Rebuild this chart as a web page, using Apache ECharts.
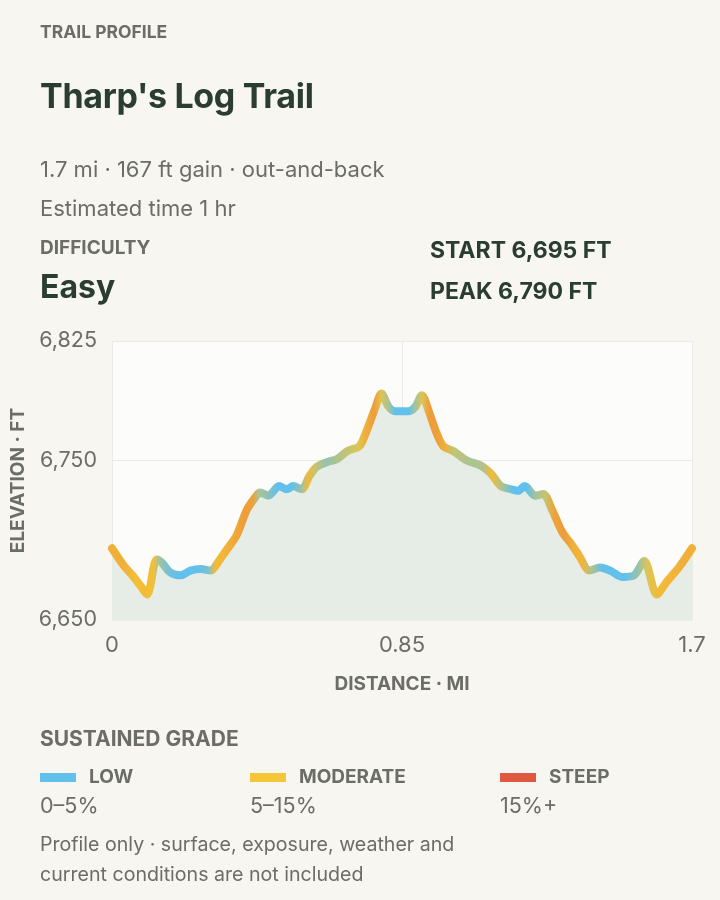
<!DOCTYPE html>
<html>
<head>
<meta charset="utf-8">
<script src="https://cdn.jsdelivr.net/npm/echarts@6/dist/echarts.min.js"></script>
<style>
  html, body { margin: 0; padding: 0; background: #f7f6f1; }
  body { width: 720px; height: 900px; position: relative; overflow: hidden; font-family: Inter, "Noto Sans", sans-serif; }
  #chart { position: absolute; left: 0; top: 0; width: 720px; height: 900px; }
  .t { position: absolute; white-space: nowrap; line-height: 1; }
  .cap { font-weight: 700; color: #6b6e66; font-size: 17.5px; }
  .dark { color: #2b3c32; font-weight: 700; }
  .reg { color: #6b6e66; font-size: 22px; }
  .sw { position: absolute; width: 36px; height: 9px; }
</style>
</head>
<body>
<div id="chart"></div>
<div class="t cap" style="left:40px;top:23px;">TRAIL PROFILE</div>
<div class="t dark" style="left:40px;top:79px;font-size:34px;letter-spacing:-0.3px;">Tharp's Log Trail</div>
<div class="t reg" style="left:40px;top:158px;">1.7 mi · 167 ft gain · out-and-back</div>
<div class="t reg" style="left:40px;top:197px;">Estimated time 1 hr</div>
<div class="t cap" style="left:40px;top:238px;font-size:19px;">DIFFICULTY</div>
<div class="t dark" style="left:40px;top:271px;font-size:32px;">Easy</div>
<div class="t dark" style="left:430px;top:239px;font-size:23px;">START 6,695 FT</div>
<div class="t dark" style="left:430px;top:280px;font-size:23px;">PEAK 6,790 FT</div>

<div class="t cap" style="left:40px;top:728px;font-size:21px;">SUSTAINED GRADE</div>
<div class="sw" style="left:40px;top:773px;background:#62c0ec;"></div>
<div class="t cap" style="left:89px;top:767px;font-size:19px;">LOW</div>
<div class="t reg" style="left:40px;top:795px;font-size:21.5px;">0–5%</div>
<div class="sw" style="left:250px;top:773px;background:#f5c637;"></div>
<div class="t cap" style="left:299px;top:767px;font-size:19px;">MODERATE</div>
<div class="t reg" style="left:250px;top:795px;font-size:21.5px;">5–15%</div>
<div class="sw" style="left:500px;top:773px;background:#df5840;"></div>
<div class="t cap" style="left:549px;top:767px;font-size:19px;">STEEP</div>
<div class="t reg" style="left:500px;top:795px;font-size:21.5px;">15%+</div>
<div class="t reg" style="left:40px;top:835px;font-size:19.6px;">Profile only · surface, exposure, weather and</div>
<div class="t reg" style="left:40px;top:865px;font-size:19.6px;">current conditions are not included</div>

<script>
// ---- data ----
const distanceMi = [0.000,0.035,0.060,0.085,0.103,0.131,0.146,0.170,0.200,0.230,0.260,0.290,0.310,0.336,0.365,0.395,0.420,0.434,0.458,0.490,0.512,0.531,0.556,0.578,0.600,0.630,0.660,0.690,0.725,0.745,0.770,0.790,0.810,0.830,0.850,0.870,0.890,0.908,0.930,0.950,0.971,1.000,1.040,1.080,1.110,1.140,1.170,1.190,1.210,1.240,1.264,1.290,1.320,1.345,1.370,1.400,1.430,1.460,1.495,1.530,1.560,1.597,1.626,1.665,1.700];
const elevationFt = [6695,6684,6678,6671,6666,6688,6686,6680,6678,6681,6682,6681,6686,6694,6703,6719,6727,6730,6728,6734,6732,6734,6732,6740,6746,6749,6751,6756,6759,6768,6782,6792,6784,6781,6781,6781,6784,6791,6780,6768,6759,6756,6750,6747,6742,6734,6732,6731,6734,6728,6729,6719,6705,6698,6690,6681,6683,6681,6677,6678,6687,6666,6674,6684,6695];
const sustainedGradePct = [7.5,7.5,7,6,6.5,6,4,3,2,2,2,3,6.5,7,8,9,8.5,4,3.5,2,1.5,2,3.5,6.5,4.5,3.5,4,4.5,5,7.5,9,5,4,2,1.5,2,4,5,9,9,7.5,4.5,4,4,6.5,4,2,2,2,4,4.5,8.5,9,7.5,7,4,2.5,2,2,3.5,5,6.5,7,7.5,7.5];
const xTickLabels = ['0', '0.85', '1.7'];

// grade colour ramp
const gradeRamp = [[0, [98,192,236]], [2.5, [98,192,236]], [5.5, [245,198,55]], [15, [223,88,64]]];
function gradeColor(g) {
  if (g <= gradeRamp[0][0]) return 'rgb(' + gradeRamp[0][1].join(',') + ')';
  for (let i = 1; i < gradeRamp.length; i++) {
    if (g <= gradeRamp[i][0]) {
      const a = gradeRamp[i-1], b = gradeRamp[i];
      const t = (g - a[0]) / (b[0] - a[0]);
      const c = a[1].map((v, k) => Math.round(v + (b[1][k] - v) * t));
      return 'rgb(' + c.join(',') + ')';
    }
  }
  return 'rgb(' + gradeRamp[gradeRamp.length-1][1].join(',') + ')';
}

const xMax = distanceMi[distanceMi.length - 1];
const stops = distanceMi.map((d, i) => ({ offset: d / xMax, color: gradeColor(sustainedGradePct[i]) }));
const seriesData = distanceMi.map((d, i) => [d, elevationFt[i]]);

const chart = echarts.init(document.getElementById('chart'), null, { renderer: 'canvas' });
const labelColor = '#6b6e66';
chart.setOption({
  backgroundColor: 'transparent',
  animation: false,
  grid: { left: 112, right: 28, top: 341, bottom: 280, show: true, backgroundColor: '#fcfcfa', borderWidth: 0, containLabel: false, outerBoundsMode: 'none' },
  xAxis: {
    type: 'value', min: 0, max: 1.7, interval: 0.85,
    name: 'DISTANCE · MI', nameLocation: 'middle', nameGap: 55,
    nameTextStyle: { color: labelColor, fontWeight: 700, fontSize: 19, fontFamily: 'Inter' },
    axisLine: { show: false }, axisTick: { show: false },
    axisLabel: { color: labelColor, fontSize: 22, fontFamily: 'Inter', margin: 14,
      formatter: v => { const i = Math.round(v / 0.85); return xTickLabels[i] !== undefined ? xTickLabels[i] : String(v); } },
    splitLine: { show: true, lineStyle: { color: '#ebebe6', width: 1 } }
  },
  yAxis: {
    type: 'value', min: 6650, max: 6825, interval: 100,
    name: 'ELEVATION · FT', nameLocation: 'middle', nameGap: 84, nameRotate: 90,
    nameTextStyle: { color: labelColor, fontWeight: 700, fontSize: 19, fontFamily: 'Inter' },
    axisLine: { show: false }, axisTick: { show: false },
    axisLabel: { color: labelColor, fontSize: 21.5, fontFamily: 'Inter', margin: 15,
      formatter: v => v.toLocaleString('en-US') },
    splitLine: { show: true, lineStyle: { color: '#ebebe6', width: 1 } }
  },
  series: [{
    type: 'line',
    data: seriesData,
    smooth: 0.3,
    showSymbol: false,
    symbol: 'none',
    lineStyle: { width: 8, cap: 'round', join: 'round', color: new echarts.graphic.LinearGradient(0, 0, 1, 0, stops) },
    areaStyle: { color: '#e6ede6', opacity: 1 },
    z: 3
  }]
});
</script>
</body>
</html>
